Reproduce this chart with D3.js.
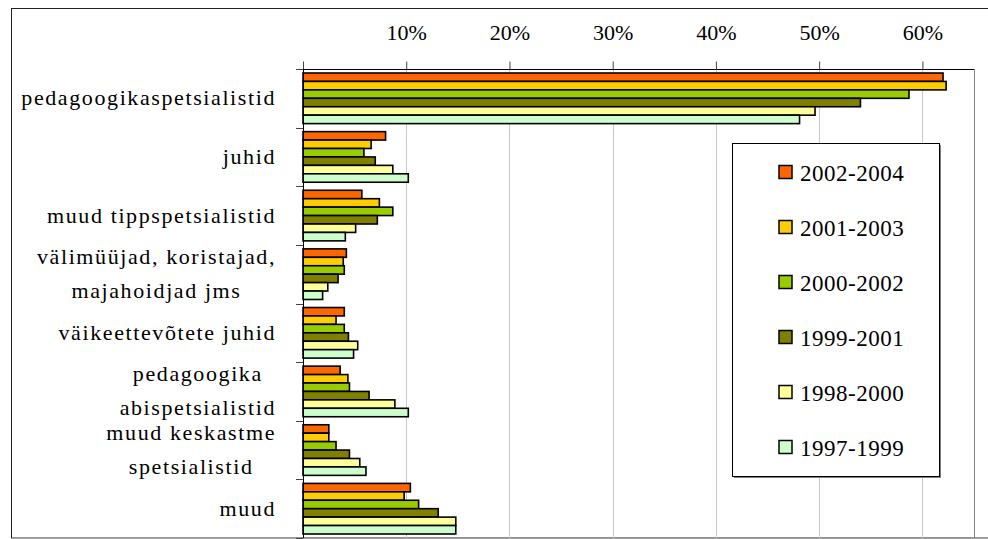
<!DOCTYPE html>
<html lang="et">
<head>
<meta charset="utf-8">
<script src="https://cdn.jsdelivr.net/npm/d3@7"></script>
<style>
  @font-face { font-family: "ChartSerif"; src: local("Liberation Serif"), local("LiberationSerif"), local("LiberationSerif-Regular"), local("Tinos"), local("Times New Roman"), local("DejaVu Serif"); }
</style>
</head>
<body style="margin:0">
<svg id="chart" width="988" height="539"></svg>
<script>
// ---- data ----
const categories = [
  "pedagoogikaspetsialistid",
  "juhid",
  "muud tippspetsialistid",
  "välimüüjad, koristajad,|majahoidjad jms",
  "väikeettevõtete juhid",
  "pedagoogika|abispetsialistid",
  "muud keskastme|spetsialistid",
  "muud"
];
const seriesNames = ["2002-2004", "2001-2003", "2000-2002", "1999-2001", "1998-2000", "1997-1999"];
const s2002_2004 = [62.0, 8.0, 5.7, 4.2, 4.0, 3.6, 2.5, 10.4];
const s2001_2003 = [62.3, 6.6, 7.4, 3.9, 3.2, 4.35, 2.5, 9.8];
const s2000_2002 = [58.7, 5.9, 8.7, 4.0, 4.0, 4.5, 3.2, 11.2];
const s1999_2001 = [54.0, 7.0, 7.2, 3.4, 4.4, 6.4, 4.5, 13.1];
const s1998_2000 = [49.6, 8.7, 5.1, 2.4, 5.3, 8.9, 5.5, 14.8];
const s1997_1999 = [48.1, 10.2, 4.1, 1.9, 4.9, 10.2, 6.1, 14.8];
const seriesValues = [s2002_2004, s2001_2003, s2000_2002, s1999_2001, s1998_2000, s1997_1999];
const seriesColors = ["#FF6600", "#FFCC00", "#99CC00", "#808000", "#FFFF99", "#CCFFCC"];
const tickValues = [0, 10, 20, 30, 40, 50, 60];

const FONT = "'Liberation Serif', ChartSerif, Tinos, 'Times New Roman', 'Noto Serif', 'DejaVu Serif', serif";

// ---- layout ----
const svg = d3.select("#chart").attr("font-family", FONT);
const plot = { left: 303, right: 974, top: 69, bottom: 538 };

const x = d3.scaleLinear().domain([0, 65]).range([plot.left, plot.right]);
const y0 = d3.scaleBand().domain(categories).range([plot.top, plot.bottom])
  .paddingInner(0.137).paddingOuter(0.0685);
const y1 = d3.scaleBand().domain(seriesNames).range([0, y0.bandwidth()]);
const step = y0.step();

// outer chart border
svg.append("rect").attr("x", 11.5).attr("y", 8.5).attr("width", 990).attr("height", 529.5)
  .attr("fill", "#fff").attr("stroke", "#222").attr("stroke-width", 1);
svg.append("line").attr("x1", 11).attr("x2", 988).attr("y1", 538.5).attr("y2", 538.5)
  .attr("stroke", "#aaa");

// gridlines
svg.append("g").selectAll("line").data(tickValues.filter(d => d > 0)).join("line")
  .attr("x1", d => Math.round(x(d)) + 0.5).attr("x2", d => Math.round(x(d)) + 0.5)
  .attr("y1", plot.top).attr("y2", plot.bottom)
  .attr("stroke", "#c8c8c8").attr("stroke-width", 1);

// plot area right / bottom border
svg.append("line").attr("x1", plot.right + 0.5).attr("x2", plot.right + 0.5)
  .attr("y1", plot.top).attr("y2", plot.bottom).attr("stroke", "#808080");
svg.append("line").attr("x1", plot.left).attr("x2", plot.right)
  .attr("y1", plot.bottom + 0.5).attr("y2", plot.bottom + 0.5).attr("stroke", "#a0a0a0");

// bars
const rows = [];
categories.forEach((c, i) => {
  seriesNames.forEach((s, j) => rows.push({ cat: c, ser: s, val: seriesValues[j][i], color: seriesColors[j] }));
});
svg.append("g").selectAll("rect").data(rows).join("rect")
  .attr("x", x(0))
  .attr("y", d => y0(d.cat) + y1(d.ser))
  .attr("width", d => x(d.val) - x(0))
  .attr("height", y1.bandwidth())
  .attr("fill", d => d.color)
  .attr("stroke", "#000").attr("stroke-width", 1.6);

// top axis
const xAxis = d3.axisTop(x).tickValues(tickValues).tickSize(8)
  .tickFormat(d => d === 0 ? "" : d + "%");
const gx = svg.append("g").attr("transform", `translate(0,${plot.top + 0.5})`).call(xAxis);
gx.attr("font-family", FONT).attr("font-size", 22);
gx.select(".domain").attr("d", `M${plot.left},0H${plot.right}`).attr("stroke", "#000");
gx.selectAll(".tick line").attr("stroke", "#444");
gx.selectAll(".tick text")
  .attr("font-family", FONT).style("font-family", FONT).attr("font-size", 22).attr("fill", "#000")
  .attr("y", -30).attr("dy", 0);

// left axis (line + ticks at band boundaries)
svg.append("line").attr("x1", plot.left + 0.5).attr("x2", plot.left + 0.5)
  .attr("y1", plot.top).attr("y2", plot.bottom).attr("stroke", "#000");
const boundaries = d3.range(categories.length + 1).map(i => plot.top + i * step);
svg.append("g").selectAll("line").data(boundaries).join("line")
  .attr("x1", plot.left - 7).attr("x2", plot.left)
  .attr("y1", d => Math.round(d) + 0.5).attr("y2", d => Math.round(d) + 0.5)
  .attr("stroke", "#444");

// category labels
const labelRight = 276;
categories.forEach((c, i) => {
  const lines = c.split("|");
  const cy = plot.top + (i + 0.5) * step;
  const g = svg.append("g");
  const texts = lines.map((ln, k) => {
    const off = lines.length === 1 ? 0 : (k === 0 ? -17 : 17);
    return g.append("text").text(ln)
      .attr("x", 0).attr("y", cy + off + 7)
      .attr("text-anchor", "middle")
      .attr("font-family", FONT).style("font-family", FONT).attr("font-size", 22)
      .attr("letter-spacing", "1.6").attr("fill", "#000");
  });
  const maxW = d3.max(texts, t => t.node().getComputedTextLength());
  g.attr("transform", `translate(${labelRight - maxW / 2},0)`);
});

// legend
const lg = { x: 732, y: 143, w: 207, h: 333 };
svg.append("rect").attr("x", lg.x + 2).attr("y", lg.y + 2).attr("width", lg.w).attr("height", lg.h)
  .attr("fill", "#808080");
svg.append("rect").attr("x", lg.x + 0.5).attr("y", lg.y + 0.5).attr("width", lg.w).attr("height", lg.h)
  .attr("fill", "#fff").attr("stroke", "#000");
const legendY = d3.scalePoint().domain(seriesNames).range([172, 447]);
const items = svg.append("g").selectAll("g").data(seriesNames).join("g")
  .attr("transform", d => `translate(0,${legendY(d)})`);
items.append("rect").attr("x", 779).attr("y", -6.5).attr("width", 13).attr("height", 13)
  .attr("fill", (d, i) => seriesColors[i]).attr("stroke", "#000").attr("stroke-width", 1.5);
items.append("text").attr("x", 800).attr("y", 8.5).text(d => d)
  .attr("font-family", FONT).style("font-family", FONT).attr("font-size", 23)
  .attr("letter-spacing", "0.5").attr("fill", "#000");
</script>
</body>
</html>
